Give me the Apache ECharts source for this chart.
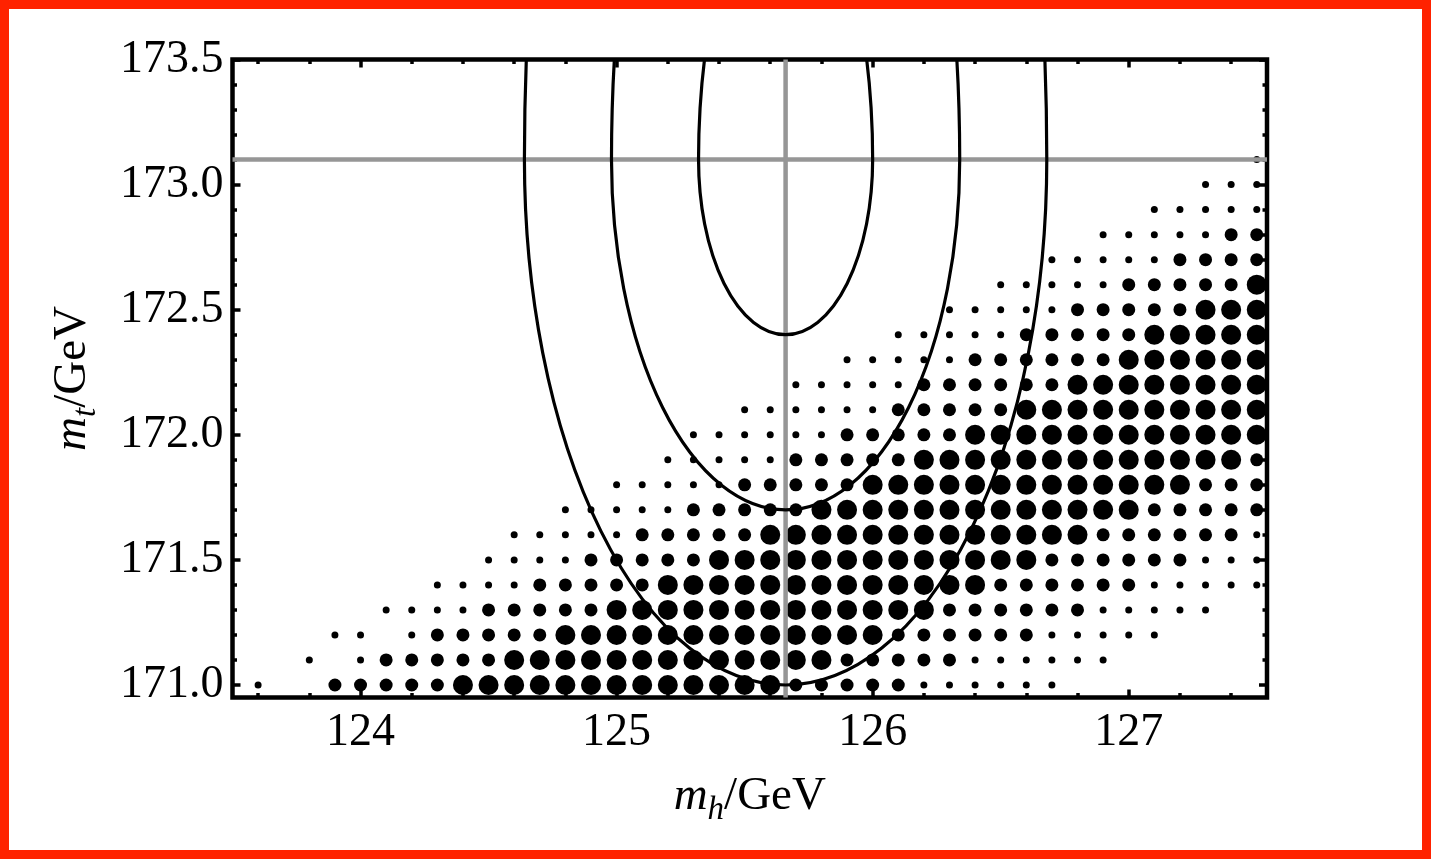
<!DOCTYPE html>
<html>
<head>
<meta charset="utf-8">
<script src="https://cdn.jsdelivr.net/npm/echarts@6/dist/echarts.min.js"></script>
<style>
  html, body { margin: 0; padding: 0; background: #ffffff; }
  #chart { width: 1431px; height: 859px; }
  #border {
    position: absolute; left: 0; top: 0; width: 1431px; height: 859px;
    box-sizing: border-box; border: 9px solid #ff2200; pointer-events: none;
  }
</style>
</head>
<body>
<div id="chart"></div>
<div id="border"></div>
<script>
// Scan grid: Higgs mass columns (GeV) and top mass rows (GeV)
const mhValues = [123.6, 123.7, 123.8, 123.9, 124.0, 124.1, 124.2, 124.3, 124.4, 124.5,
                  124.6, 124.7, 124.8, 124.9, 125.0, 125.1, 125.2, 125.3, 125.4, 125.5,
                  125.6, 125.7, 125.8, 125.9, 126.0, 126.1, 126.2, 126.3, 126.4, 126.5,
                  126.6, 126.7, 126.8, 126.9, 127.0, 127.1, 127.2, 127.3, 127.4, 127.5];
const mtValues = [171.0, 171.1, 171.2, 171.3, 171.4, 171.5, 171.6, 171.7, 171.8, 171.9, 172.0,
                  172.1, 172.2, 172.3, 172.4, 172.5, 172.6, 172.7, 172.8, 172.9, 173.0, 173.1];

// Dot weight per grid point (0 = none, 1 = small, 2 = medium, 3 = large); one row per mt value
const dotWeight = [
  [1,0,0,2,2,2,2,2,3,3, 3,3,3,3,3,3,3,3,3,3, 3,2,2,2,2,2,1,1,1,1, 1,1,0,0,0,0,0,0,0,0], // 171.0
  [0,0,1,0,1,2,2,2,2,2, 3,3,3,3,3,3,3,3,3,3, 3,3,3,2,2,2,2,2,1,1, 1,1,1,1,0,0,0,0,0,0], // 171.1
  [0,0,0,1,1,0,1,2,2,2, 2,2,3,3,3,3,3,3,3,3, 3,3,3,3,3,2,2,2,2,2, 2,1,1,1,1,1,0,0,0,0], // 171.2
  [0,0,0,0,0,1,1,1,1,2, 2,2,2,2,3,3,3,3,3,3, 3,3,3,3,3,3,3,2,2,2, 2,2,2,1,1,1,1,1,0,0], // 171.3
  [0,0,0,0,0,0,0,1,1,1, 1,2,2,2,2,2,3,3,3,3, 3,3,3,3,3,3,3,3,3,2, 2,2,2,2,2,1,1,1,1,1], // 171.4
  [0,0,0,0,0,0,0,0,0,1, 1,1,1,2,2,2,2,2,3,3, 3,3,3,3,3,3,3,3,3,3, 3,2,2,2,2,2,2,1,1,1], // 171.5
  [0,0,0,0,0,0,0,0,0,0, 1,1,1,1,1,2,2,2,2,2, 3,3,3,3,3,3,3,3,3,3, 3,3,3,2,2,2,2,2,2,1], // 171.6
  [0,0,0,0,0,0,0,0,0,0, 0,0,1,1,1,1,1,2,2,2, 2,2,3,3,3,3,3,3,3,3, 3,3,3,3,3,2,2,2,2,2], // 171.7
  [0,0,0,0,0,0,0,0,0,0, 0,0,0,0,1,1,1,1,1,2, 2,2,2,2,3,3,3,3,3,3, 3,3,3,3,3,3,3,2,2,2], // 171.8
  [0,0,0,0,0,0,0,0,0,0, 0,0,0,0,0,0,1,1,1,1, 1,2,2,2,2,2,3,3,3,3, 3,3,3,3,3,3,3,3,3,2], // 171.9
  [0,0,0,0,0,0,0,0,0,0, 0,0,0,0,0,0,0,1,1,1, 1,1,1,2,2,2,2,2,3,3, 3,3,3,3,3,3,3,3,3,3], // 172.0
  [0,0,0,0,0,0,0,0,0,0, 0,0,0,0,0,0,0,0,0,1, 1,1,1,1,1,2,2,2,2,2, 3,3,3,3,3,3,3,3,3,3], // 172.1
  [0,0,0,0,0,0,0,0,0,0, 0,0,0,0,0,0,0,0,0,0, 0,1,1,1,1,1,2,2,2,2, 2,2,3,3,3,3,3,3,3,3], // 172.2
  [0,0,0,0,0,0,0,0,0,0, 0,0,0,0,0,0,0,0,0,0, 0,0,0,1,1,1,1,1,2,2, 2,2,2,2,3,3,3,3,3,3], // 172.3
  [0,0,0,0,0,0,0,0,0,0, 0,0,0,0,0,0,0,0,0,0, 0,0,0,0,0,1,1,1,1,1, 2,2,2,2,2,3,3,3,3,3], // 172.4
  [0,0,0,0,0,0,0,0,0,0, 0,0,0,0,0,0,0,0,0,0, 0,0,0,0,0,0,0,1,1,1, 1,1,2,2,2,2,2,3,3,3], // 172.5
  [0,0,0,0,0,0,0,0,0,0, 0,0,0,0,0,0,0,0,0,0, 0,0,0,0,0,0,0,0,0,1, 1,1,1,1,2,2,2,2,2,3], // 172.6
  [0,0,0,0,0,0,0,0,0,0, 0,0,0,0,0,0,0,0,0,0, 0,0,0,0,0,0,0,0,0,0, 0,1,1,1,1,1,2,2,2,2], // 172.7
  [0,0,0,0,0,0,0,0,0,0, 0,0,0,0,0,0,0,0,0,0, 0,0,0,0,0,0,0,0,0,0, 0,0,0,1,1,1,1,1,2,2], // 172.8
  [0,0,0,0,0,0,0,0,0,0, 0,0,0,0,0,0,0,0,0,0, 0,0,0,0,0,0,0,0,0,0, 0,0,0,0,0,1,1,1,1,1], // 172.9
  [0,0,0,0,0,0,0,0,0,0, 0,0,0,0,0,0,0,0,0,0, 0,0,0,0,0,0,0,0,0,0, 0,0,0,0,0,0,0,1,1,1], // 173.0
  [0,0,0,0,0,0,0,0,0,0, 0,0,0,0,0,0,0,0,0,0, 0,0,0,0,0,0,0,0,0,0, 0,0,0,0,0,0,0,0,0,1]  // 173.1
];
const dotSizes = [0, 7, 13, 20];

// Central values; widths: mh symmetric, mt with separate lower / upper widths
const bestFit = [125.66, 173.1];
const sigmaMh = 0.34;
const sigmaMtDown = 0.70;
const sigmaMtUp = 1.10;
const contourLevels = [1, 2, 3];

// Axis ranges and tick positions
const mhRange = [123.5, 127.54];
const mtRange = [170.95, 173.5];
const mhMajorTicks = [124, 125, 126, 127];
const mhMinorTicks = [123.6, 123.8, 124.0, 124.2, 124.4, 124.6, 124.8, 125.0, 125.2, 125.4,
                      125.6, 125.8, 126.0, 126.2, 126.4, 126.6, 126.8, 127.0, 127.2, 127.4];
const mtMajorTicks = [171.0, 171.5, 172.0, 172.5, 173.0, 173.5];
const mtMinorTicks = [171.0, 171.1, 171.2, 171.3, 171.4, 171.5, 171.6, 171.7, 171.8, 171.9,
                      172.0, 172.1, 172.2, 172.3, 172.4, 172.5, 172.6, 172.7, 172.8, 172.9,
                      173.0, 173.1, 173.2, 173.3, 173.4, 173.5];

const serif = 'Liberation Serif';
const tickFont = { fontFamily: serif, fontSize: 46, color: '#000' };
const nameRich = {
  m: { fontFamily: serif, fontStyle: 'italic', fontSize: 47, color: '#000' },
  s: { fontFamily: serif, fontStyle: 'italic', fontSize: 33, color: '#000', padding: [26, 0, 0, 0] },
  u: { fontFamily: serif, fontSize: 47, color: '#000' }
};

const dotData = [];
mtValues.forEach((mt, r) => {
  dotWeight[r].forEach((w, c) => {
    if (w > 0) dotData.push([mhValues[c], mt, w]);
  });
});

function tickAxis(pos, range, ticks, len, withLabels, extra) {
  return Object.assign({
    type: 'value', position: pos, min: range[0], max: range[1],
    axisLine: { show: false },
    splitLine: { show: false },
    axisTick: { show: true, inside: true, length: len, customValues: ticks,
                lineStyle: { color: '#000', width: 3.5 } },
    axisLabel: withLabels ? extra.label : { show: false }
  }, extra && extra.axis ? extra.axis : {});
}

const chart = echarts.init(document.getElementById('chart'), null, { renderer: 'canvas' });

chart.setOption({
  animation: false,
  backgroundColor: '#ffffff',
  grid: {
    left: 232.5, right: 164, top: 59.5, bottom: 161.5,
    show: true, borderColor: '#000', borderWidth: 4.5, backgroundColor: 'transparent'
  },
  xAxis: [
    tickAxis('bottom', mhRange, mhMajorTicks, 8, true, {
      label: Object.assign({ customValues: mhMajorTicks, margin: 12,
                             formatter: v => v.toFixed(0) }, tickFont),
      axis: { name: '{m|m}{s|h}{u|/GeV}', nameLocation: 'middle', nameGap: 70,
              nameTextStyle: { rich: nameRich } }
    }),
    tickAxis('bottom', mhRange, mhMinorTicks, 4.5, false),
    tickAxis('top', mhRange, mhMajorTicks, 8, false),
    tickAxis('top', mhRange, mhMinorTicks, 4.5, false)
  ],
  yAxis: [
    tickAxis('left', mtRange, mtMajorTicks, 8, true, {
      label: Object.assign({ customValues: mtMajorTicks, margin: 9,
                             formatter: v => v.toFixed(1) }, tickFont),
      axis: { name: '{m|m}{s|t}{u|/GeV}', nameLocation: 'middle', nameGap: 130, nameRotate: 90,
              nameTextStyle: { rich: nameRich } }
    }),
    tickAxis('left', mtRange, mtMinorTicks, 4.5, false),
    tickAxis('right', mtRange, mtMajorTicks, 8, false),
    tickAxis('right', mtRange, mtMinorTicks, 4.5, false)
  ],
  series: [
    {
      name: 'scan points',
      type: 'scatter',
      xAxisIndex: 0, yAxisIndex: 0,
      data: dotData,
      symbol: 'circle',
      symbolSize: v => dotSizes[v[2]],
      itemStyle: { color: '#000', opacity: 1 },
      silent: true,
      z: 2
    },
    {
      name: 'central mh',
      type: 'line',
      xAxisIndex: 0, yAxisIndex: 0,
      data: [[bestFit[0], mtRange[0]], [bestFit[0], mtRange[1]]],
      symbol: 'none',
      lineStyle: { color: '#969696', width: 4.5 },
      silent: true,
      z: 3
    },
    {
      name: 'central mt',
      type: 'line',
      xAxisIndex: 0, yAxisIndex: 0,
      data: [[mhRange[0], bestFit[1]], [mhRange[1], bestFit[1]]],
      symbol: 'none',
      lineStyle: { color: '#969696', width: 4.5 },
      silent: true,
      z: 3
    },
    {
      name: 'contours',
      type: 'custom',
      xAxisIndex: 0, yAxisIndex: 0,
      clip: true,
      silent: true,
      z: 4,
      data: contourLevels.map(k => [bestFit[0], bestFit[1], k * sigmaMh, k * sigmaMtDown, k * sigmaMtUp]),
      renderItem: (params, api) => {
        const c = api.coord([api.value(0), api.value(1)]);
        const down = api.size([api.value(2), api.value(3)]);
        const up = api.size([api.value(2), api.value(4)]);
        const rx = down[0];
        // upper half-ellipse then lower half-ellipse, joined at the widest point
        const d = 'M ' + (c[0] - rx) + ' ' + c[1] +
                  ' A ' + rx + ' ' + up[1] + ' 0 0 1 ' + (c[0] + rx) + ' ' + c[1] +
                  ' A ' + rx + ' ' + down[1] + ' 0 0 1 ' + (c[0] - rx) + ' ' + c[1] + ' Z';
        return {
          type: 'path',
          shape: { pathData: d },
          style: { fill: null, stroke: '#000', lineWidth: 3.2 }
        };
      }
    }
  ]
});
</script>
</body>
</html>
